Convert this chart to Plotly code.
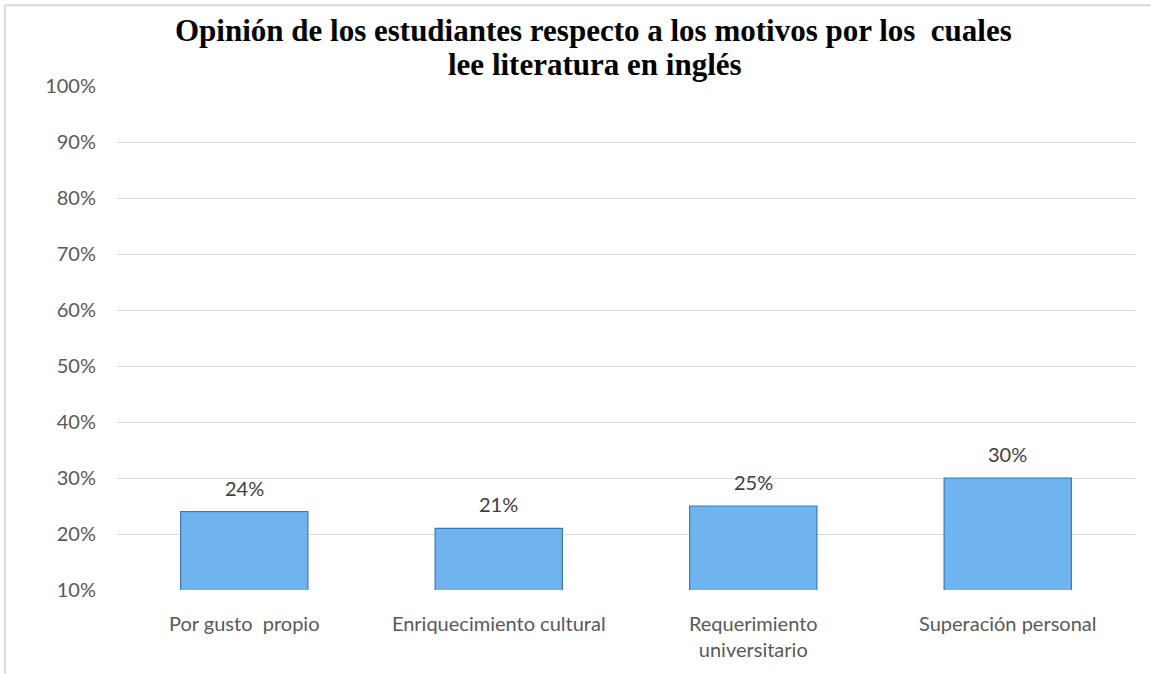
import plotly.graph_objects as go

categories = ["Por gusto  propio", "Enriquecimiento cultural", "Requerimiento<br>universitario", "Superación personal"]
values = [0.24, 0.21, 0.25, 0.30]
value_labels = ["24%", "21%", "25%", "30%"]
tick_vals = [0.1, 0.2, 0.3, 0.4, 0.5, 0.6, 0.7, 0.8, 0.9, 1.0]
tick_text = ["10%", "20%", "30%", "40%", "50%", "60%", "70%", "80%", "90%", "100%"]
title_lines = ["Opinión de los estudiantes respecto a los motivos por los  cuales",
               "lee literatura en inglés"]

label_font = dict(family="Lato, Open Sans, sans-serif", size=20, color="#595959")
value_font = dict(family="Lato, Open Sans, sans-serif", size=20, color="#404040")
title_font = dict(family="Liberation Serif, Times New Roman, serif", size=31,
                  color="black", weight="bold")

fig = go.Figure()
fig.add_trace(go.Bar(
    x=categories, y=values,
    width=0.5,
    marker=dict(color="#70b4ee", line=dict(color="#3a78b8", width=1.2)),
))

value_annotations = [
    dict(text=t, x=c, y=v, xref="x", yref="y", xanchor="center", yanchor="bottom",
         yshift=10, showarrow=False, font=value_font)
    for c, v, t in zip(categories, values, value_labels)
]

fig.update_layout(
    width=1151, height=674,
    margin=dict(l=117, r=16, t=86, b=84),
    paper_bgcolor="white", plot_bgcolor="white",
    showlegend=False,
    xaxis=dict(showgrid=False, showline=False, ticks="", tickfont=label_font,
               ticklabelstandoff=20),
    yaxis=dict(range=[0.1, 1.0], tickvals=tick_vals, ticktext=tick_text,
               showgrid=True, gridcolor="#d9d9d9", gridwidth=1.2, zeroline=False,
               showline=False, ticks="", ticklabelstandoff=20, tickfont=label_font),
    annotations=[
        dict(text=title_lines[0], xref="paper", yref="paper", x=0.468, y=1.0,
             xanchor="center", yanchor="middle", yshift=56, showarrow=False, font=title_font),
        dict(text=title_lines[1], xref="paper", yref="paper", x=0.47, y=1.0,
             xanchor="center", yanchor="middle", yshift=22, showarrow=False, font=title_font),
    ] + value_annotations,
    shapes=[
        dict(type="line", xref="paper", yref="paper", x0=-0.11, x1=-0.11, y0=1.16, y1=-0.2,
             line=dict(color="#d9d9d9", width=2)),
        dict(type="line", xref="paper", yref="paper", x0=-0.11, x1=1.02, y0=1.16, y1=1.16,
             line=dict(color="#d9d9d9", width=2)),
    ],
)
fig.write_html("out.html", config={"displayModeBar": False},
               post_script="document.body.style.margin='0';")
